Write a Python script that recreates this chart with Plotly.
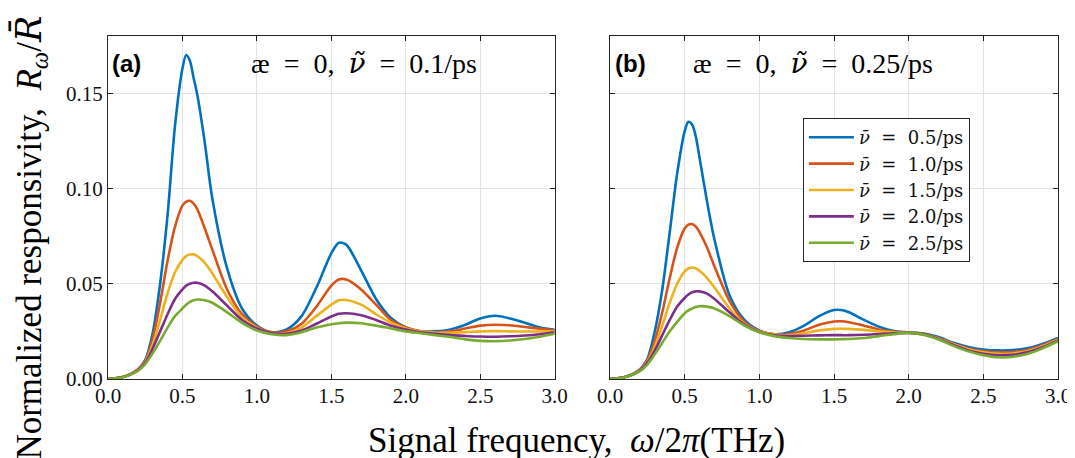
import plotly.graph_objects as go

# shared frequency grid (THz)
freq = [0, 0.1, 0.2, 0.25, 0.3, 0.35, 0.4, 0.45, 0.5, 0.525, 0.55, 0.575, 0.6, 0.65, 0.7,
        0.8, 0.9, 1.0, 1.1, 1.2, 1.3, 1.4, 1.5, 1.55, 1.6, 1.7, 1.8, 1.9, 2.0, 2.1, 2.2,
        2.3, 2.4, 2.5, 2.6, 2.7, 2.8, 2.9, 3.0]

labels = ["0.5", "1.0", "1.5", "2.0", "2.5"]
colors = ["#0072BD", "#D95319", "#EDB120", "#7E2F8E", "#77AC30"]

# panel (a): ae = 0, nu~ = 0.1/ps
a_05 = [0, 0.001, 0.005, 0.010, 0.024, 0.050, 0.086, 0.133, 0.163, 0.170, 0.167, 0.158, 0.149, 0.124, 0.095,
        0.058, 0.037, 0.028, 0.0245, 0.026, 0.033, 0.048, 0.066, 0.0715, 0.0705, 0.057, 0.042, 0.032, 0.027,
        0.025, 0.025, 0.026, 0.0285, 0.0318, 0.0332, 0.0318, 0.0295, 0.027, 0.0258]
a_10 = [0, 0.001, 0.005, 0.0095, 0.021, 0.040, 0.062, 0.080, 0.091, 0.093, 0.0935, 0.092, 0.089, 0.079, 0.068,
        0.047, 0.034, 0.0275, 0.0245, 0.025, 0.029, 0.038, 0.049, 0.0522, 0.0522, 0.047, 0.039, 0.031, 0.027,
        0.025, 0.0245, 0.025, 0.0265, 0.028, 0.0285, 0.0282, 0.0273, 0.0264, 0.0256]
a_15 = [0, 0.001, 0.0048, 0.009, 0.018, 0.031, 0.045, 0.056, 0.0625, 0.0645, 0.0653, 0.0654, 0.0645, 0.061, 0.0555,
        0.043, 0.0325, 0.027, 0.024, 0.024, 0.027, 0.033, 0.039, 0.0413, 0.0415, 0.039, 0.034, 0.0295, 0.0265,
        0.025, 0.0243, 0.0243, 0.0246, 0.025, 0.0251, 0.025, 0.0249, 0.0249, 0.025]
a_20 = [0, 0.001, 0.0045, 0.0085, 0.016, 0.025, 0.034, 0.042, 0.047, 0.049, 0.050, 0.0505, 0.0505, 0.049, 0.046,
        0.0385, 0.031, 0.0265, 0.024, 0.0237, 0.0255, 0.029, 0.0328, 0.0342, 0.0345, 0.0335, 0.031, 0.028, 0.026,
        0.0245, 0.0237, 0.023, 0.0226, 0.0223, 0.0222, 0.0224, 0.0228, 0.0235, 0.0245]
a_25 = [0, 0.0009, 0.0042, 0.0078, 0.0135, 0.020, 0.027, 0.033, 0.037, 0.039, 0.0405, 0.0413, 0.0417, 0.0413, 0.040,
        0.035, 0.0295, 0.0255, 0.0235, 0.023, 0.0245, 0.027, 0.0287, 0.0293, 0.0296, 0.0293, 0.028, 0.0265, 0.025,
        0.024, 0.023, 0.022, 0.0208, 0.020, 0.0198, 0.0202, 0.021, 0.0222, 0.0237]

# panel (b): ae = 0, nu~ = 0.25/ps
b_05 = [0, 0.001, 0.005, 0.0105, 0.025, 0.047, 0.077, 0.108, 0.130, 0.135, 0.1335, 0.127, 0.116, 0.093, 0.073,
        0.044, 0.031, 0.0255, 0.0235, 0.0245, 0.028, 0.033, 0.0362, 0.0362, 0.035, 0.031, 0.0275, 0.0252, 0.0245,
        0.0238, 0.022, 0.019, 0.0168, 0.0155, 0.0150, 0.0152, 0.0162, 0.0185, 0.0216]
b_10 = [0, 0.001, 0.0048, 0.0098, 0.020, 0.035, 0.053, 0.069, 0.079, 0.081, 0.0813, 0.080, 0.077, 0.069, 0.059,
        0.041, 0.030, 0.0252, 0.0234, 0.0236, 0.0255, 0.0285, 0.0302, 0.0303, 0.0298, 0.028, 0.026, 0.0248, 0.0244,
        0.0236, 0.0215, 0.0185, 0.016, 0.0146, 0.014, 0.0142, 0.0153, 0.0178, 0.021]
b_15 = [0, 0.001, 0.0046, 0.009, 0.017, 0.028, 0.040, 0.050, 0.0565, 0.058, 0.0585, 0.058, 0.0568, 0.053, 0.048,
        0.037, 0.029, 0.025, 0.0233, 0.023, 0.024, 0.0255, 0.0263, 0.0264, 0.0263, 0.0258, 0.025, 0.0245, 0.0243,
        0.0234, 0.0212, 0.0182, 0.0156, 0.014, 0.0132, 0.0134, 0.0147, 0.0173, 0.0207]
b_20 = [0, 0.001, 0.0044, 0.0085, 0.015, 0.023, 0.031, 0.038, 0.0425, 0.0443, 0.0455, 0.046, 0.046, 0.0448, 0.042,
        0.035, 0.0285, 0.0247, 0.023, 0.0226, 0.0227, 0.0229, 0.023, 0.023, 0.023, 0.0232, 0.0236, 0.024, 0.0242,
        0.0233, 0.021, 0.0178, 0.015, 0.0133, 0.0125, 0.0127, 0.0141, 0.0168, 0.0203]
b_25 = [0, 0.0009, 0.0041, 0.0076, 0.013, 0.019, 0.025, 0.030, 0.0345, 0.036, 0.037, 0.0378, 0.0382, 0.038, 0.037,
        0.033, 0.028, 0.0245, 0.0225, 0.0215, 0.021, 0.0208, 0.0208, 0.0209, 0.021, 0.0215, 0.0225, 0.0235, 0.0242,
        0.0232, 0.0207, 0.0174, 0.0145, 0.0125, 0.0114, 0.0117, 0.0133, 0.0162, 0.0198]

series_a = [a_05, a_10, a_15, a_20, a_25]
series_b = [b_05, b_10, b_15, b_20, b_25]

SERIF = "Liberation Serif, Times New Roman, serif"
MARK = "<span style=\"font-family:'DejaVu Serif'\"><i>{}</i></span>"
NU_TILDE = MARK.format("ν̃")
NU_BAR = MARK.format("ν̄")
R_BAR = MARK.format("R̄")
AXC = "#262626"

fig = go.Figure()
for i, ys in enumerate(series_a):
    fig.add_trace(go.Scatter(x=freq, y=ys, mode="lines", line=dict(color=colors[i], width=2.6, shape="spline", smoothing=0.8),
                             xaxis="x", yaxis="y", showlegend=False))
for i, ys in enumerate(series_b):
    fig.add_trace(go.Scatter(x=freq, y=ys, mode="lines", line=dict(color=colors[i], width=2.6, shape="spline", smoothing=0.8),
                             xaxis="x2", yaxis="y2", name=NU_BAR + "  =  " + labels[i] + "/ps"))

axis_common = dict(showline=True, linecolor=AXC, linewidth=1, mirror="ticks", ticks="inside", ticklen=5,
                   tickcolor=AXC, showgrid=True, gridcolor="#e3e3e3", gridwidth=1, zeroline=False,
                   tickfont=dict(family=SERIF, size=21, color="#111"))

W, H = 1075, 458
ml, mr, mt, mb = 100, 18, 28, 87
pw = W - ml - mr

fig.update_layout(
    width=W, height=H, margin=dict(l=ml, r=mr, t=mt, b=mb),
    paper_bgcolor="white", plot_bgcolor="white",
    xaxis=dict(domain=[0, 450 / pw], range=[0, 3], dtick=0.5, tickformat=".1f", anchor="y",
               ticklabelstandoff=-2, **axis_common),
    yaxis=dict(range=[0, 0.18], tickvals=[0, 0.05, 0.10, 0.15], tickformat=".2f", anchor="x", **axis_common),
    xaxis2=dict(domain=[505.7 / pw, 1], range=[0, 3], dtick=0.5, tickformat=".1f", anchor="y2",
                ticklabelstandoff=-2, **axis_common),
    yaxis2=dict(range=[0, 0.18], tickvals=[0, 0.05, 0.10, 0.15], showticklabels=False, anchor="x2", **axis_common),
    legend=dict(x=(800 - ml) / pw, y=(371 - 110) / 343, xanchor="left", yanchor="top",
                bordercolor=AXC, borderwidth=1, bgcolor="white",
                font=dict(family="DejaVu Serif, serif", size=18, color="#111"), tracegroupgap=0, itemwidth=45),
    showlegend=True,
)

fig.add_annotation(text="<b>(a)</b>", xref="paper", yref="paper", x=2 / pw, y=(371 - 55) / 343,
                   xanchor="left", yanchor="middle", showarrow=False,
                   font=dict(family="Liberation Sans, Arial, sans-serif", size=24, color="black"))
fig.add_annotation(text="<b>(b)</b>", xref="paper", yref="paper", x=(609 - ml) / pw, y=(371 - 55) / 343,
                   xanchor="left", yanchor="middle", showarrow=False,
                   font=dict(family="Liberation Sans, Arial, sans-serif", size=24, color="black"))
fig.add_annotation(text="æ  =  0,  " + NU_TILDE + "  =  0.1/ps", xref="paper", yref="paper", x=(358 - ml) / pw,
                   y=(371 - 55) / 343, xanchor="center", yanchor="middle", showarrow=False,
                   font=dict(family=SERIF, size=28, color="black"))
fig.add_annotation(text="æ  =  0,  " + NU_TILDE + "  =  0.25/ps", xref="paper", yref="paper", x=(810 - ml) / pw,
                   y=(371 - 55) / 343, xanchor="center", yanchor="middle", showarrow=False,
                   font=dict(family=SERIF, size=28, color="black"))
fig.add_annotation(text="Signal frequency,  <i>ω</i>/2<i>π</i>(THz)", xref="paper", yref="paper",
                   x=(572 - ml) / pw, y=-(432 - 371) / 343, xanchor="center", yanchor="middle", showarrow=False,
                   font=dict(family=SERIF, size=35, color="black"))
fig.add_annotation(text="Normalized responsivity,  <i>R</i><sub><i>ω</i></sub>/" + R_BAR, xref="paper", yref="paper",
                   x=-(100 - 22) / pw, y=(371 - 230) / 343, xanchor="center", yanchor="middle", showarrow=False,
                   textangle=-90, font=dict(family=SERIF, size=35, color="black"))

fig.write_html("out.html")
